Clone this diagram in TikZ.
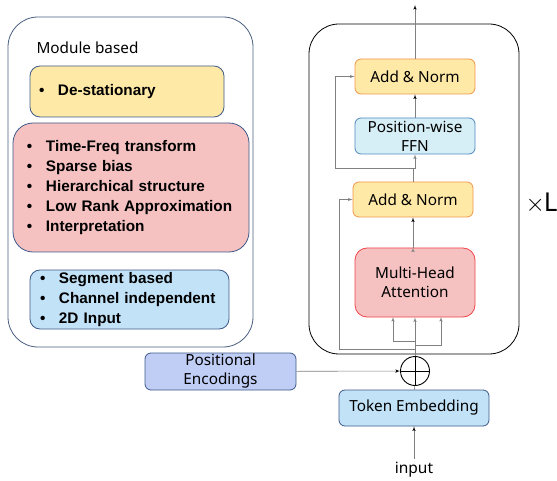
\documentclass[tikz,border=0pt]{standalone}
\usepackage{fontspec}
\setmainfont{Noto Sans}
\newfontfamily\listfont{Liberation Sans}
\usetikzlibrary{arrows,positioning}

\definecolor{frameblue}{HTML}{4A5E80}
\definecolor{edgeblue}{HTML}{3E5A8A}
\definecolor{normfill}{HTML}{FFE9A6}
\definecolor{normedge}{HTML}{F0954A}
\definecolor{attnfill}{HTML}{F5C1C1}
\definecolor{attnedge}{HTML}{F0444A}
\definecolor{ffnfill}{HTML}{D6EEF5}
\definecolor{ffnedge}{HTML}{4F88C0}
\definecolor{embfill}{HTML}{C1E2F7}
\definecolor{posfill}{HTML}{C0CEF5}
\definecolor{linkgray}{HTML}{808080}

\newcommand{\itm}{\makebox[19pt][l]{\textbullet}}

\begin{document}
\begin{tikzpicture}[x=1pt,y=-1pt,>=latex']
        \tikzset{frame/.style={draw, rounded corners=30pt, line width=0.8pt},
        block/.style={draw, rectangle, rounded corners=6pt, align=center, line width=0.8pt, inner sep=0pt, minimum width=120pt, font=\fontsize{15.3}{19}\selectfont},
        listbox/.style={draw=edgeblue, rectangle, align=left, line width=0.8pt, inner ysep=0pt, font=\listfont\bfseries\fontsize{15.3}{20}\selectfont},
        link/.style={draw=linkgray, line width=0.6pt},
        }
        \useasboundingbox (0,0) rectangle (557,481);

%% left panel
        \draw[frame, draw=frameblue] (8,17) rectangle (253,347);
        \node[anchor=west, font=\fontsize{15.3}{19}\selectfont] (title) at (33,48) {Module based};
        \node[listbox, fill=normfill, rounded corners=10pt, minimum width=194pt, minimum height=51pt, text width=176pt, inner xsep=9pt] (destat) at (127,91.5) {\itm De-stationary};
        \node[listbox, fill=attnfill, rounded corners=20pt, minimum width=236pt, minimum height=129pt, text width=208pt, inner xsep=14pt] (freq) at (131,187.5)
            {\itm Time-Freq transform\\ \itm Sparse bias\\ \itm Hierarchical structure\\ \itm Low Rank Approximation\\ \itm Interpretation};
        \node[listbox, fill=embfill, rounded corners=10pt, minimum width=199pt, minimum height=59pt, text width=179pt, inner xsep=10pt] (segment) at (129.5,299.5)
            {\itm Segment based\\ \itm Channel independent\\ \itm 2D Input};

%% encoder
        \draw[frame, draw=black] (309,24) rectangle (519,354);
        \node[block, fill=normfill, draw=normedge, minimum height=35pt] (norm2) at (415,76.5) {Add \& Norm};
        \node[block, fill=ffnfill, draw=ffnedge, minimum height=36pt] (ffn) at (415,136) {Position-wise\\FFN};
        \node[block, fill=normfill, draw=normedge, minimum height=35pt] (norm1) at (413,199.5) {Add \& Norm};
        \node[block, fill=attnfill, draw=attnedge, rounded corners=12pt, minimum height=69pt] (mha) at (415,282.5) {Multi-Head\\Attention};
        \node[font=\fontsize{26}{26}\selectfont, inner sep=0pt] (times) at (541.5,203) {$\times$\kern-1ptL};
        \node[circle, draw, line width=0.9pt, minimum size=29pt, inner sep=0pt] (oplus) at (415,371) {};
        \node[block, fill=embfill, draw=edgeblue, minimum width=150pt, minimum height=36pt] (token) at (414,408) {Token Embedding};
        \node[block, fill=posfill, draw=edgeblue, minimum width=151pt, minimum height=37pt] (pos) at (220.5,371.5) {Positional\\Encodings};
        \node[font=\fontsize{15.5}{19}\selectfont] (input) at (414,470) {input};
        \coordinate (out) at (415,5);
        \coordinate (split2) at (415,168);
        \coordinate (skip2) at (335,168);
        \coordinate (split1) at (415,349);
        \coordinate (skip1) at (339,349);
        \coordinate (kbr) at (415,341);
        \coordinate (vbr) at (415,345);
        \coordinate (kin) at (393,317);
        \coordinate (vin) at (441,317);

%% paths
        \draw[black, line width=0.9pt] (oplus.north) -- (oplus.south) (oplus.west) -- (oplus.east);
        \path[link,->] (norm2) edge (out)
                    (ffn) edge (norm2)
                    (mha.north -| norm1.south) edge (norm1)
                    (input) edge (token)
                    (pos) edge (oplus);
        \draw[link,->] (norm1.north) |- (split2) -- (ffn.south);
        \draw[link,->] (split2) -- (skip2) |- (norm2.west);
        \draw[link,->] (oplus.north) -- (mha.south);
        \draw[link,->] (split1) -- (skip1) |- (norm1.west);
        \draw[link,->] (kbr) -| (kin);
        \draw[link,->] (vbr) -| (vin);
        \draw[link] (token) -- (oplus);
 \end{tikzpicture}
\end{document}
